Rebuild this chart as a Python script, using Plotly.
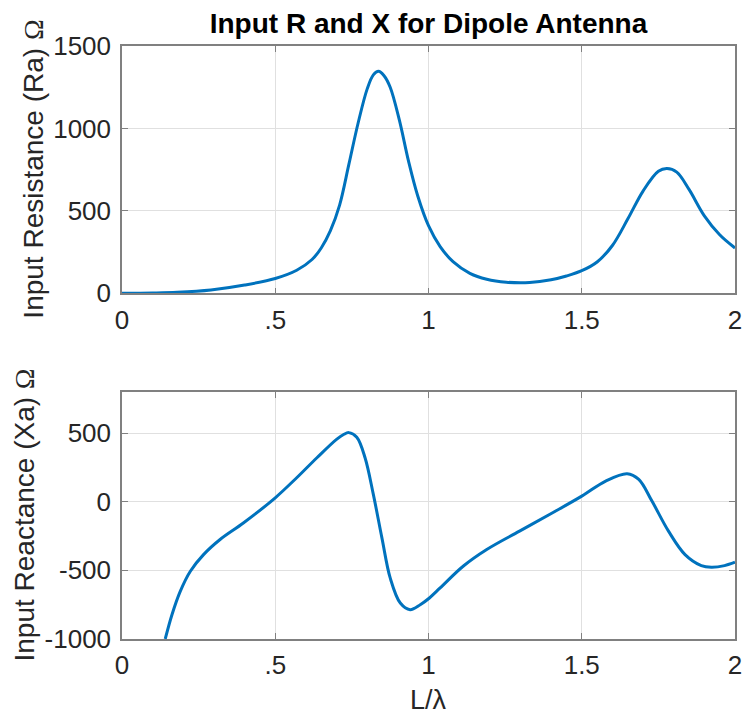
import plotly.graph_objects as go
from plotly.subplots import make_subplots

# --- data ---
L_R = [0.00, 0.10, 0.18, 0.29, 0.40, 0.50, 0.57, 0.62, 0.65, 0.68, 0.71, 0.74,
       0.77, 0.80, 0.82, 0.837, 0.855, 0.875, 0.905, 0.935, 0.965, 1.00,
       1.038, 1.08, 1.135, 1.19, 1.254, 1.33, 1.40, 1.45, 1.50, 1.55, 1.60,
       1.65, 1.70, 1.75, 1.778, 1.81, 1.85, 1.90, 1.95, 2.00]
R_vals = [0, 2, 6, 20, 50, 90, 140, 205, 275, 380, 535, 780,
          1030, 1240, 1325, 1347, 1320, 1250, 1050, 800, 590, 410,
          283, 192, 121, 85, 67, 65, 82, 105, 137, 190, 290,
          450, 620, 740, 757, 735, 630, 470, 355, 275]

L_X = [0.141, 0.163, 0.19, 0.223, 0.266, 0.32, 0.397, 0.50, 0.57, 0.636, 0.70,
       0.723, 0.74, 0.766, 0.793, 0.82, 0.848, 0.875, 0.908, 0.94, 0.973, 1.003,
       1.038, 1.113, 1.19, 1.297, 1.405, 1.50, 1.578, 1.648, 1.686, 1.729, 1.783,
       1.837, 1.89, 1.923, 1.966, 2.00]
X_vals = [-1000, -823, -653, -506, -385, -275, -153, 29, 175, 321, 455,
          490, 504, 470, 321, 54, -263, -555, -738, -786, -750, -701,
          -628, -470, -348, -214, -80, 41, 151, 205, 163, 5, -214,
          -385, -465, -477, -465, -440]

x_tickvals = [0, 0.5, 1, 1.5, 2]
x_ticktext = ["0", ".5", "1", "1.5", "2"]
R_tickvals = [0, 500, 1000, 1500]
R_ticktext = ["0", "500", "1000", "1500"]
X_tickvals = [-1000, -500, 0, 500]
X_ticktext = ["-1000", "-500", "0", "500"]

title_text = "Input R and X for Dipole Antenna"
ylabel_R = "Input Resistance (Ra) <span style=\"font-family:'Liberation Serif'\">Ω</span>"
ylabel_X = "Input Reactance (Xa) <span style=\"font-family:'Liberation Serif'\">Ω</span>"
xlabel = "L/λ"

W, H = 746, 717
ML, MR, MT, MB = 122, 11, 46, 78
PH = H - MT - MB
top_dom = [(H - MB - 293.3) / PH, 1.0]
bot_dom = [0.0, (H - MB - 392) / PH]

LINE = "#0072BD"
AX = "#808080"
GRID = "#e0e0e0"
TXT = "#262626"
FONT = "Liberation Sans, Arial, sans-serif"

fig = make_subplots(rows=2, cols=1)
fig.add_trace(go.Scatter(x=L_R, y=R_vals, mode="lines",
                         line=dict(color=LINE, width=3, shape="spline", smoothing=1.0),
                         showlegend=False), row=1, col=1)
fig.add_trace(go.Scatter(x=L_X, y=X_vals, mode="lines",
                         line=dict(color=LINE, width=3, shape="spline", smoothing=1.0),
                         showlegend=False), row=2, col=1)

common_x = dict(range=[0, 2], tickvals=x_tickvals, ticktext=x_ticktext,
                showline=True, linecolor=AX, linewidth=1.5, mirror="ticks",
                ticks="inside", ticklen=6, tickcolor=AX, tickwidth=1,
                showgrid=True, gridcolor=GRID, gridwidth=1, zeroline=False,
                tickfont=dict(family=FONT, size=26, color=TXT))
common_y = dict(showline=True, linecolor=AX, linewidth=1.5, mirror="ticks",
                ticks="inside", ticklen=6, tickcolor=AX, tickwidth=1,
                showgrid=True, gridcolor=GRID, gridwidth=1, zeroline=False,
                tickfont=dict(family=FONT, size=26, color=TXT),
                ticklabelstandoff=4)

fig.update_xaxes(**common_x)
fig.update_yaxes(**common_y)
fig.update_layout(
    xaxis=dict(domain=[0, 1], ticklabelstandoff=3),
    xaxis2=dict(domain=[0, 1], ticklabelstandoff=2),
    yaxis=dict(domain=top_dom, range=[0, 1500], tickvals=R_tickvals, ticktext=R_ticktext),
    yaxis2=dict(domain=bot_dom, range=[-1000, 800], tickvals=X_tickvals, ticktext=X_ticktext),
)

fig.update_layout(
    width=W, height=H,
    margin=dict(l=ML, r=MR, t=MT, b=MB, autoexpand=False),
    paper_bgcolor="white", plot_bgcolor="white",
    title=dict(text="<b>" + title_text + "</b>", x=0.5, xref="paper",
               y=1 - 23 / H, yref="container", yanchor="middle", xanchor="center",
               font=dict(family=FONT, size=28, color="black")),
    font=dict(family=FONT, color=TXT),
)

fig.add_annotation(text=ylabel_R, textangle=-90, xref="paper", yref="paper",
                   x=(34 - ML) / (W - ML - MR), y=sum(top_dom) / 2,
                   xanchor="center", yanchor="middle", showarrow=False,
                   font=dict(family=FONT, size=28, color=TXT))
fig.add_annotation(text=ylabel_X, textangle=-90, xref="paper", yref="paper",
                   x=(24 - ML) / (W - ML - MR), y=sum(bot_dom) / 2,
                   xanchor="center", yanchor="middle", showarrow=False,
                   font=dict(family=FONT, size=28, color=TXT))
fig.add_annotation(text=xlabel, xref="paper", yref="paper",
                   x=0.5, y=(H - MB - 700) / PH,
                   xanchor="center", yanchor="middle", showarrow=False,
                   font=dict(family=FONT, size=27, color=TXT))

fig.write_html("out.html", config={"displayModeBar": False},
               post_script="document.body.style.margin='0';document.body.style.overflow='hidden';")
